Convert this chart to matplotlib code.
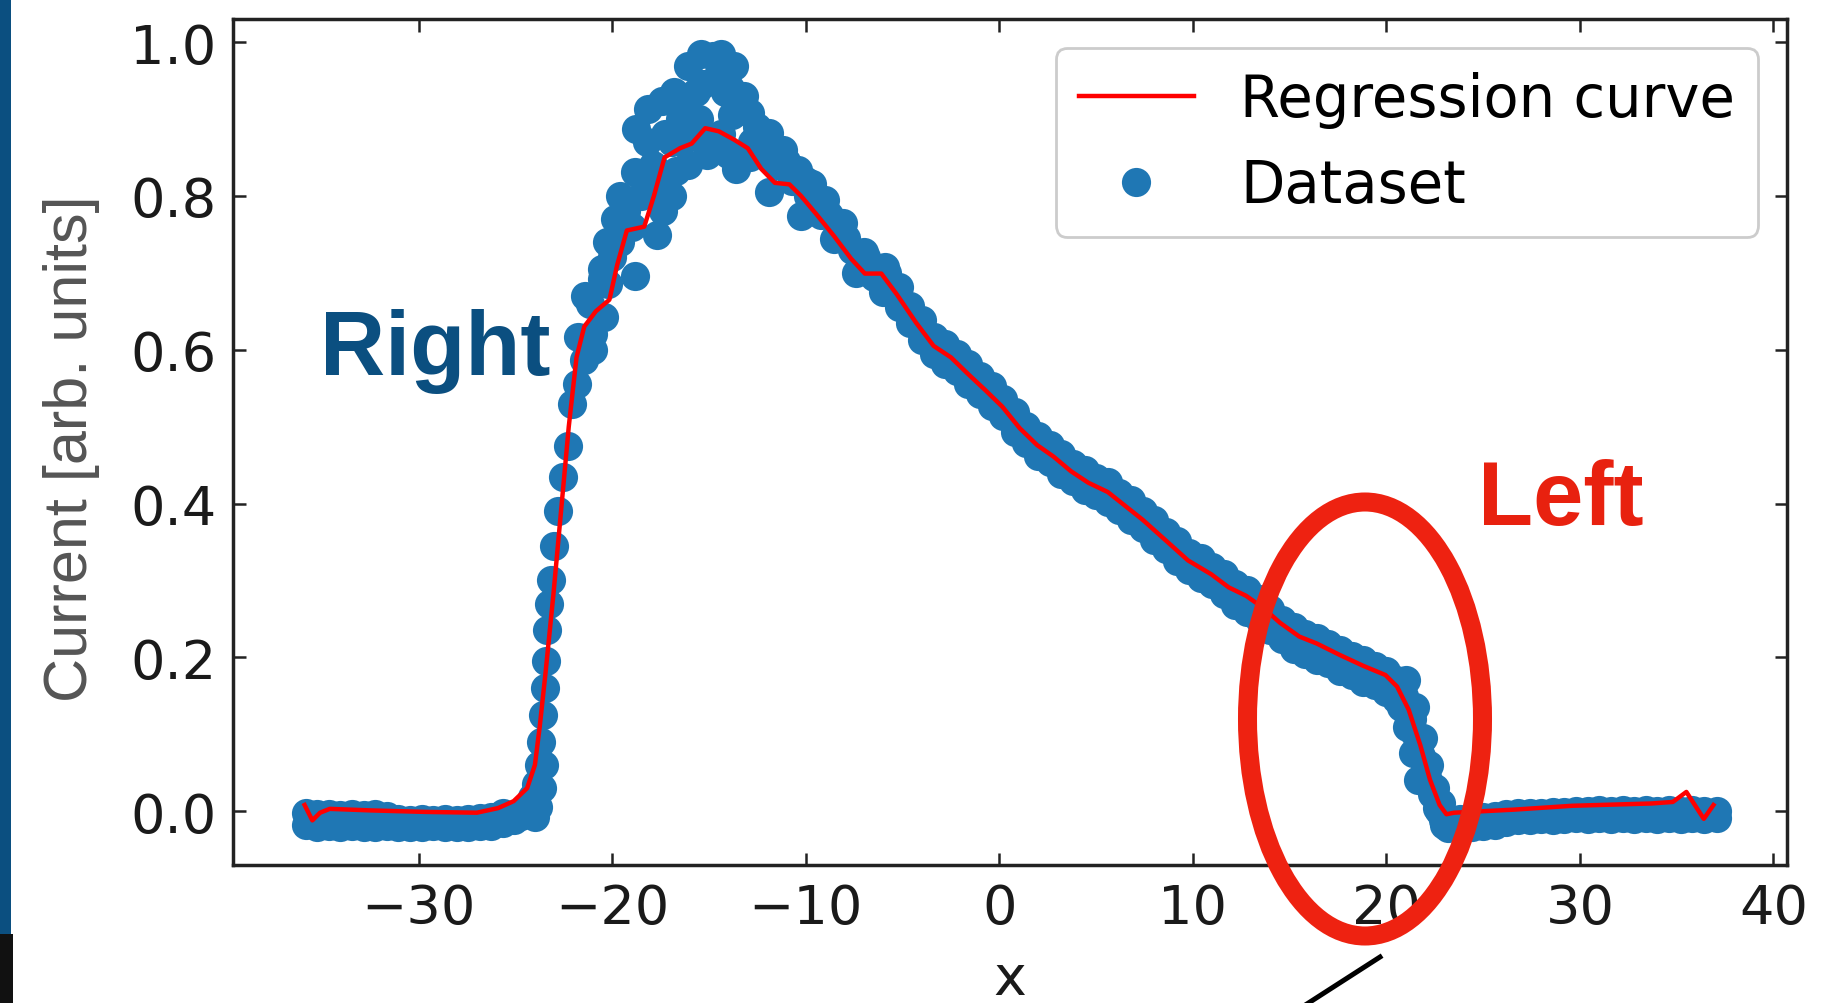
import matplotlib
matplotlib.use("Agg")
import matplotlib.pyplot as plt
from matplotlib.patches import Ellipse, Rectangle
from matplotlib.lines import Line2D

W, H = 1828, 1004

# ---------------- regression curve ----------------
reg_x = [-35.9, -35.5, -35.1, -34.6, -32.5, -29.6, -27.0, -25.9, -25.1, -24.4, -24.0, -23.75,
         -23.45, -23.05, -22.65, -22.25, -21.85, -21.45, -20.85, -20.15, -19.75, -19.25, -18.35,
         -17.85, -17.3, -16.5, -15.9, -15.2, -14.5, -13.7, -13.0, -12.3, -11.6, -10.85, -10.25,
         -9.45, -8.55, -7.65, -6.95, -6.1, -5.3, -4.3, -3.4, -2.5, -1.6, -0.75, 0.15, 1.05, 1.95,
         2.8, 3.7, 4.6, 5.6, 6.5, 7.4, 8.6, 9.75, 10.95, 11.85, 12.75, 13.6, 14.5, 15.5, 16.4,
         17.6, 18.8, 19.95, 20.55, 21.15, 21.75, 22.25, 22.75, 23.1, 23.5, 26.6, 29.6, 33.7,
         34.8, 35.5, 36.4, 36.9]
reg_y = [0.008, -0.012, -0.002, 0.003, 0.001, -0.001, -0.002, 0.004, 0.013, 0.03, 0.06, 0.11,
         0.18, 0.28, 0.39, 0.50, 0.59, 0.63, 0.65, 0.665, 0.71, 0.755, 0.76,
         0.80, 0.85, 0.862, 0.868, 0.888, 0.884, 0.873, 0.862, 0.835, 0.817, 0.815, 0.80,
         0.776, 0.748, 0.718, 0.699, 0.699, 0.672, 0.635, 0.605, 0.59, 0.568, 0.548, 0.526, 0.498, 0.476,
         0.461, 0.442, 0.427, 0.415, 0.397, 0.379, 0.352, 0.326, 0.308, 0.291, 0.28, 0.265, 0.245, 0.227, 0.218,
         0.203, 0.189, 0.177, 0.162, 0.132, 0.086, 0.041, 0.008, -0.004, -0.002, 0.002, 0.007, 0.010,
         0.012, 0.025, -0.010, 0.008]

# ---------------- dataset (read segment by segment) ----------------
lf_x = [-35.85, -35.25, -34.65, -34.05, -33.45, -32.85, -32.25, -31.65, -31.05, -30.45,
        -29.85, -29.25, -28.65, -28.05, -27.45, -26.85, -26.25, -25.65]
lf_hi = [-0.003, -0.004, -0.004, -0.005, -0.004, -0.005, -0.004, -0.006, -0.010, -0.011,
         -0.010, -0.011, -0.010, -0.011, -0.010, -0.009, -0.007, -0.003]
lf_lo = [-0.018, -0.020, -0.019, -0.020, -0.019, -0.021, -0.020, -0.019, -0.020, -0.021,
         -0.020, -0.019, -0.021, -0.020, -0.020, -0.019, -0.019, -0.016]

rise_x = [-25.1, -24.7, -24.4, -24.15, -23.95, -23.8, -23.7, -23.6, -23.5, -23.42, -23.35,
          -23.25, -23.15, -23.0, -22.8, -22.55, -22.3, -22.1, -21.8, -21.45, -21.75, -21.0,
          -21.15, -20.55, -20.2, -24.0, -23.85, -23.65, -23.55]
rise_y = [-0.012, -0.006, 0.004, 0.018, 0.035, 0.06, 0.09, 0.125, 0.16, 0.195, 0.235,
          0.27, 0.30, 0.345, 0.39, 0.435, 0.475, 0.53, 0.556, 0.586, 0.617, 0.60,
          0.66, 0.692, 0.685, -0.008, 0.005, 0.03, 0.06]

pk_up_x = [-21.4, -20.55, -19.85, -18.85, -18.75, -18.15, -17.45, -16.8, -16.1, -15.4, -14.8,
           -14.4, -13.7, -13.2, -12.9, -11.9, -11.2, -10.4, -9.7, -9.0, -8.1, -7.0, -5.9]
pk_up_y = [0.67, 0.705, 0.77, 0.831, 0.887, 0.913, 0.923, 0.935, 0.969, 0.985, 0.982,
           0.985, 0.969, 0.93, 0.908, 0.882, 0.86, 0.834, 0.815, 0.795, 0.765, 0.727, 0.707]
pk_lo_x = [-21.0, -20.45, -18.85, -17.7, -17.4, -16.7, -16.1, -15.1, -13.6, -11.9, -10.25,
           -8.55, -7.4, -6.0]
pk_lo_y = [0.62, 0.643, 0.696, 0.749, 0.78, 0.833, 0.84, 0.853, 0.835, 0.805, 0.774,
           0.744, 0.70, 0.675]
pk_mid_x = [-19.3, -18.5, -17.9, -17.3, -16.5, -15.7, -15.3, -14.2, -15.0, -14.4, -13.8,
            -12.9, -12.3, -11.5, -10.7, -9.9, -9.2, -8.3, -7.6, -7.0, -6.5,
            -16.9, -16.2, -14.6, -13.9, -12.5, -11.0, -10.0, -20.0, -19.6, -18.2]
pk_mid_y = [0.78, 0.80, 0.84, 0.88, 0.90, 0.935, 0.945, 0.935, 0.87, 0.88, 0.905,
            0.85, 0.86, 0.84, 0.82, 0.80, 0.775, 0.755, 0.73, 0.71, 0.695,
            0.87, 0.905, 0.955, 0.94, 0.89, 0.845, 0.82, 0.72, 0.74, 0.87]
pk_fill_x = [-18.3, -17.6, -19.0, -19.6, -20.3, -16.9, -16.4, -15.8, -15.5, -14.0, -13.4,
             -12.8, -12.0, -10.9, -9.6, -8.8, -7.9, -6.9]
pk_fill_y = [0.82, 0.81, 0.76, 0.80, 0.74, 0.80, 0.87, 0.88, 0.90, 0.855, 0.845,
             0.87, 0.85, 0.84, 0.79, 0.775, 0.745, 0.72]

md_x = [-5.8, -5.2, -4.6, -4.0, -3.4, -2.8, -2.2, -1.6, -1.0, -0.4,
        0.2, 0.8, 1.4, 2.0, 2.6, 3.2, 3.8, 4.4, 5.0, 5.6,
        6.2, 6.8, 7.4, 8.0, 8.6, 9.2, 9.8, 10.4, 11.0, 11.6,
        12.2, 12.8, 13.4, 14.0, 14.6, 15.2, 15.8, 16.4, 17.0, 17.6,
        18.2, 18.8, 19.4, 20.0, 20.5]
md_hi = [0.700, 0.681, 0.657, 0.639, 0.617, 0.608, 0.594, 0.581, 0.566, 0.553,
         0.536, 0.519, 0.501, 0.488, 0.476, 0.465, 0.451, 0.443, 0.433, 0.428,
         0.414, 0.404, 0.390, 0.379, 0.363, 0.351, 0.336, 0.329, 0.318, 0.309,
         0.295, 0.287, 0.276, 0.263, 0.249, 0.239, 0.230, 0.225, 0.217, 0.210,
         0.202, 0.196, 0.189, 0.182, 0.170]
md_lo = [0.676, 0.655, 0.635, 0.613, 0.594, 0.582, 0.572, 0.555, 0.543, 0.527,
         0.514, 0.493, 0.479, 0.462, 0.454, 0.439, 0.429, 0.417, 0.411, 0.402,
         0.392, 0.378, 0.368, 0.353, 0.341, 0.325, 0.314, 0.303, 0.296, 0.283,
         0.268, 0.259, 0.250, 0.235, 0.224, 0.211, 0.205, 0.197, 0.192, 0.182,
         0.177, 0.168, 0.164, 0.155, 0.146]

dr_x = [20.9, 21.2, 21.5, 21.8, 22.1, 22.35, 22.6, 22.9, 21.0, 21.5, 21.9, 22.2, 22.5,
        22.8, 20.75, 21.05, 21.35, 21.65, 21.3, 21.7, 22.0, 22.3, 22.7, 23.0]
dr_y = [0.15, 0.128, 0.10, 0.072, 0.045, 0.022, 0.004, -0.012, 0.17, 0.135, 0.095, 0.06,
        0.03, 0.01, 0.135, 0.11, 0.075, 0.04, 0.12, 0.085, 0.055, 0.03, 0.0, -0.018]

rf_x = [23.2, 23.8, 24.4, 25.0, 25.6, 26.2, 26.8, 27.4, 28.0, 28.6,
        29.2, 29.8, 30.4, 31.0, 31.6, 32.2, 32.8, 33.4, 34.0, 34.6,
        35.2, 35.8, 36.4, 37.1]
rf_hi = [-0.012, -0.010, -0.009, -0.008, -0.006, -0.004, -0.003, -0.002, -0.002, -0.001,
         -0.001, 0.0, 0.0, 0.001, 0.0, 0.001, 0.0, 0.001, 0.0, 0.001,
         0.0, 0.001, 0.0, 0.0]
rf_lo = [-0.022, -0.021, -0.020, -0.019, -0.018, -0.014, -0.012, -0.011, -0.010, -0.011,
         -0.010, -0.009, -0.010, -0.009, -0.010, -0.009, -0.010, -0.009, -0.010, -0.009,
         -0.010, -0.009, -0.010, -0.009]

data_x = (lf_x + lf_x + rise_x + pk_up_x + pk_lo_x + pk_mid_x + pk_fill_x + md_x + md_x
          + dr_x + rf_x + rf_x)
data_y = (lf_hi + lf_lo + rise_y + pk_up_y + pk_lo_y + pk_mid_y + pk_fill_y + md_hi + md_lo
          + dr_y + rf_hi + rf_lo)

xticks = [-30, -20, -10, 0, 10, 20, 30, 40]
yticks = [0.0, 0.2, 0.4, 0.6, 0.8, 1.0]

# ---------------- figure ----------------
fig = plt.figure(figsize=(W / 100, H / 100), dpi=100)
ax = fig.add_axes([233 / W, 1 - 866 / H, (1787 - 233) / W, (866 - 20) / H])

dots, = ax.plot(data_x, data_y, 'o', color='#1f77b4', ms=21, mec='none',
                label='Dataset', zorder=2)
curve, = ax.plot(reg_x, reg_y, '-', color='#ff0000', lw=3.2,
                 label='Regression curve', zorder=3)

ax.set_xlim(-39.6, 40.7)
ax.set_ylim(-0.07, 1.03)
ax.set_xticks(xticks)
ax.set_yticks(yticks)
ax.tick_params(direction='in', top=True, right=True, length=9, width=1.8,
               labelsize=39, pad=12, color='#222222', labelcolor='#1a1a1a')
for s in ax.spines.values():
    s.set_linewidth(2.5)
    s.set_color('#222222')

leg = ax.legend(handles=[curve, dots], loc='upper right', fontsize=41.5,
                framealpha=1.0, edgecolor='#cccccc')
leg.get_frame().set_linewidth(2)

ax.set_xlabel('x', fontsize=40, color='#1a1a1a', labelpad=13)
ax.set_ylabel('Current [arb. units]', fontsize=44, color='#555555',
              family=['Liberation Sans', 'DejaVu Sans'], va='center')
ax.yaxis.set_label_coords(-0.104, 0.493)

# ---------------- overlay annotations ----------------
def fx(px):
    return px / W

def fy(py):
    return 1 - py / H

fig.add_artist(Rectangle((0, fy(935)), fx(11), 935 / H, transform=fig.transFigure,
                         color='#0b4f80', lw=0))
fig.add_artist(Rectangle((0, 0), fx(13), (H - 935) / H, transform=fig.transFigure,
                         color='#111111', lw=0))

fig.text(fx(320), fy(375), 'Right', fontsize=65, fontweight='bold', color='#0b4f80',
         family=['Liberation Sans', 'DejaVu Sans'], ha='left', va='baseline')
fig.text(fx(1478), fy(525), 'Left', fontsize=65, fontweight='bold', color='#e8210f',
         family=['Liberation Sans', 'DejaVu Sans'], ha='left', va='baseline')

fig.add_artist(Ellipse((fx(1365), fy(720)), 235 / W, 434 / H, transform=fig.transFigure,
                       fill=False, edgecolor='#ee2211', lw=13.7, zorder=10))
fig.add_artist(Line2D([fx(1380), fx(1296)], [fy(958), fy(1012)], color='black', lw=3.6,
                      transform=fig.transFigure, zorder=10))

fig.savefig('out.png', dpi=100)
